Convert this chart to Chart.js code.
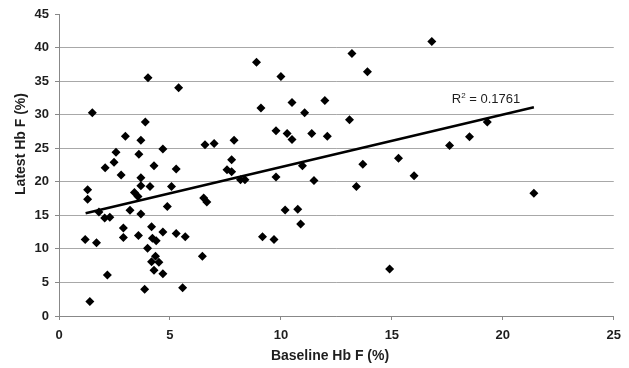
<!DOCTYPE html>
<html lang="en">
<head>
    <meta charset="UTF-8">
    <title>Baseline vs Latest Hb F</title>
    <script src="https://cdn.jsdelivr.net/npm/chart.js"></script>
    <style>
        html, body { margin: 0; padding: 0; background: #fff; }
        #wrap { width: 629px; height: 368px; }
    </style>
</head>
<body>
    <div id="wrap"><canvas id="chart"></canvas></div>
    <script>
        // values
        const baselineHbF = [
            1.50, 4.01, 5.39, 3.89, 2.99, 3.69, 2.57, 3.60, 4.68, 6.58,
            2.08, 2.48, 4.28, 5.28, 2.80, 3.69, 1.29, 1.29, 1.18, 1.39,
            1.69, 1.80, 2.06, 2.29, 2.18, 2.90, 2.90, 3.20, 3.40, 3.56,
            3.69, 4.10, 3.69, 3.58, 3.99, 4.17, 4.21, 4.38, 4.68, 4.35,
            4.17, 4.50, 4.28, 4.68, 3.86, 4.88, 5.07, 5.28, 5.69, 5.57,
            6.46, 6.52, 6.66, 8.90, 10.0, 13.2, 13.9, 9.10, 10.5, 11.07,
            11.98, 13.09, 6.99, 7.89, 9.78, 10.28, 10.50, 11.39, 12.09, 7.78,
            7.57, 7.78, 9.78, 10.97, 11.49, 13.69, 15.3, 16.0, 8.18, 8.38,
            10.19, 10.76, 10.89, 9.17, 9.69, 14.9, 13.4, 16.8, 19.3, 18.5,
            17.6, 21.4
        ];
        const latestHbF = [
            30.3, 35.5, 34.0, 28.9, 26.8, 26.2, 24.4, 24.1, 24.9, 25.5,
            22.1, 22.9, 22.4, 21.9, 21.0, 20.6, 18.8, 17.4, 11.4, 2.15,
            10.9, 15.5, 14.6, 14.7, 6.1, 13.1, 11.7, 15.75, 18.4, 17.8,
            19.4, 19.3, 15.2, 12.0, 10.1, 13.3, 11.6, 11.2, 12.5, 8.9,
            8.1, 8.0, 6.8, 6.3, 4.0, 16.3, 19.3, 12.3, 11.8, 4.2,
            8.9, 17.6, 17.0, 37.8, 35.7, 39.1, 36.4, 31.0, 31.8, 30.3,
            32.1, 29.25, 25.7, 26.2, 27.6, 27.2, 26.3, 27.2, 26.8, 23.3,
            21.8, 21.5, 20.7, 22.4, 20.2, 22.6, 23.5, 20.9, 20.3, 20.3,
            15.8, 15.9, 13.7, 11.8, 11.4, 7.0, 19.3, 40.9, 28.9, 26.7,
            25.4, 18.3
        ];
        // trend line end points as drawn
        const trendX = [1.2, 21.4];
        const trendY = [15.3, 31.1];
        const r2Pos = [17.7, 31.7];
        const xTicks = [0, 5, 10, 15, 20, 25];
        const yTicks = [0, 5, 10, 15, 20, 25, 30, 35, 40, 45];
        const xTitle = 'Baseline Hb F (%)';
        const yTitle = 'Latest Hb F (%)';

        const points = baselineHbF.map((x, i) => ({ x: x, y: latestHbF[i] }));
        const trend = trendX.map((x, i) => ({ x: x, y: trendY[i] }));

        const textColor = '#1e1e1e';
        const fontFamily = 'Liberation Sans, Arial, sans-serif';
        const tickFont = { family: fontFamily, size: 13, weight: 'bold' };

        // R² label and axis titles
        const labelsPlugin = {
            id: 'labels',
            afterDraw(chart) {
                const ctx = chart.ctx;
                const xs = chart.scales.x, ys = chart.scales.y;
                const lx = xs.getPixelForValue(r2Pos[0]);
                const ly = ys.getPixelForValue(r2Pos[1]);
                ctx.save();
                ctx.fillStyle = textColor;
                ctx.textBaseline = 'alphabetic';
                ctx.textAlign = 'left';
                ctx.font = '13px ' + fontFamily;
                ctx.fillText('R', lx, ly);
                let w = ctx.measureText('R').width;
                ctx.font = '8px ' + fontFamily;
                ctx.fillText('2', lx + w, ly - 5);
                w += ctx.measureText('2').width;
                ctx.font = '13px ' + fontFamily;
                ctx.fillText(' = 0.1761', lx + w, ly);

                ctx.font = 'bold 14px ' + fontFamily;
                ctx.textAlign = 'center';
                ctx.textBaseline = 'middle';
                ctx.fillText(xTitle, 330, 356);
                ctx.translate(21, 144);
                ctx.rotate(-Math.PI / 2);
                ctx.fillText(yTitle, 0, 0);
                ctx.restore();
            }
        };

        new Chart(document.getElementById('chart'), {
            type: 'scatter',
            data: {
                datasets: [
                    {
                        label: 'Hb F',
                        data: points,
                        pointStyle: 'rectRot',
                        pointRadius: 4.5,
                        pointHoverRadius: 4.5,
                        backgroundColor: '#000',
                        borderColor: '#000',
                        borderWidth: 0
                    },
                    {
                        label: 'Trend',
                        type: 'line',
                        data: trend,
                        borderColor: '#000',
                        borderWidth: 2.5,
                        pointRadius: 0,
                        fill: false
                    }
                ]
            },
            options: {
                responsive: true,
                maintainAspectRatio: false,
                animation: false,
                devicePixelRatio: 1,
                layout: { padding: { top: 14, right: 13, left: 0, bottom: 0 } },
                plugins: {
                    legend: { display: false },
                    tooltip: { enabled: false }
                },
                scales: {
                    x: {
                        type: 'linear',
                        min: 0,
                        max: 25,
                        afterBuildTicks: s => { s.ticks = xTicks.map(v => ({ value: v })); },
                        afterFit: s => { s.height = 52; },
                        grid: { drawOnChartArea: false, drawTicks: true, tickLength: 4, color: '#888' },
                        border: { color: '#888', width: 1 },
                        ticks: { color: textColor, font: tickFont, padding: 8, maxRotation: 0 }
                    },
                    y: {
                        type: 'linear',
                        min: 0,
                        max: 45,
                        afterBuildTicks: s => { s.ticks = yTicks.map(v => ({ value: v })); },
                        afterFit: s => { s.width = 59; },
                        grid: {
                            color: c => (c.tick && c.tick.value === 45) ? 'rgba(0,0,0,0)' : '#a8a8a8',
                            tickColor: '#888',
                            lineWidth: 1,
                            drawTicks: true,
                            tickLength: 4
                        },
                        border: { color: '#888', width: 1 },
                        ticks: { color: textColor, font: tickFont, padding: 6 }
                    }
                }
            },
            plugins: [labelsPlugin]
        });
    </script>
</body>
</html>
